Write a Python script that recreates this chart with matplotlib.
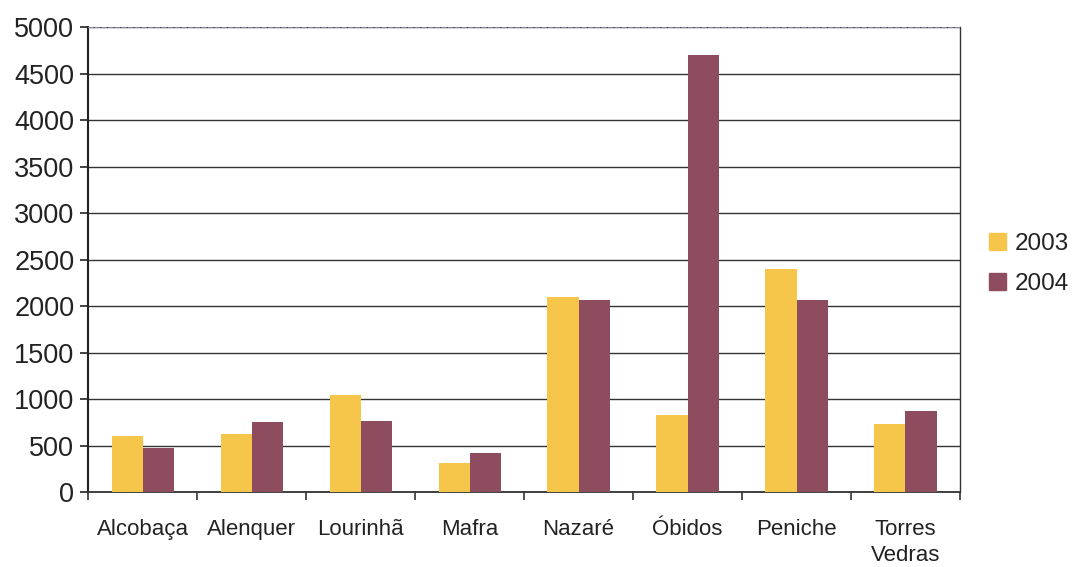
import numpy as np
import matplotlib.pyplot as plt
from matplotlib.patches import Patch

plt.rcParams['font.family'] = ['Liberation Sans', 'DejaVu Sans']

towns = ['Alcobaça', 'Alenquer', 'Lourinhã', 'Mafra', 'Nazaré', 'Óbidos', 'Peniche', 'Torres\nVedras']
v2003 = [600, 630, 1050, 310, 2100, 830, 2400, 730]
v2004 = [480, 750, 770, 420, 2070, 4700, 2070, 870]

c2003 = '#F5C64A'
c2004 = '#8E4D5E'

fig = plt.figure(figsize=(10.75, 5.67), dpi=100)
ax = fig.add_axes([0.082, 0.132, 0.811, 0.820])

x = np.arange(len(towns))
w = 0.285
ax.bar(x - w/2, v2003, w, color=c2003, zorder=3)
ax.bar(x + w/2, v2004, w, color=c2004, zorder=3)

ax.set_xlim(-0.5, len(towns) - 0.5)
ax.set_ylim(0, 5000)
ax.set_yticks(np.arange(0, 5001, 500))
ax.yaxis.grid(True, color='#333333', linewidth=1.0, zorder=0)
ax.tick_params(axis='y', labelsize=19.5, length=6, width=1.2, colors='#222222', pad=4)

ax.set_xticks(x)
ax.set_xticklabels(towns, fontsize=16, color='#222222', va='top', linespacing=1.35)
ax.tick_params(axis='x', length=0, pad=19)
ax.set_xticks(np.arange(-0.5, len(towns)), minor=True)
ax.tick_params(axis='x', which='minor', length=6, width=1.2, color='#333333')

ax.spines['left'].set_linewidth(1.5)
ax.spines['left'].set_color('#222222')
ax.spines['bottom'].set_linewidth(1.3)
ax.spines['bottom'].set_color('#333333')
ax.spines['right'].set_linewidth(1.0)
ax.spines['right'].set_color('#333333')
ax.spines['top'].set_color('#8888aa')
ax.spines['top'].set_linestyle((0, (4, 2)))

handles = [Patch(color=c2003, label='2003'), Patch(color=c2004, label='2004')]
fig.legend(handles=handles, loc='center left', bbox_to_anchor=(0.920, 0.535),
           frameon=False, fontsize=17.5, handlelength=0.7, handleheight=0.7,
           handletextpad=0.35, labelspacing=0.75, labelcolor='#222222',
           borderpad=0, borderaxespad=0)

fig.savefig('out.png', dpi=100)
